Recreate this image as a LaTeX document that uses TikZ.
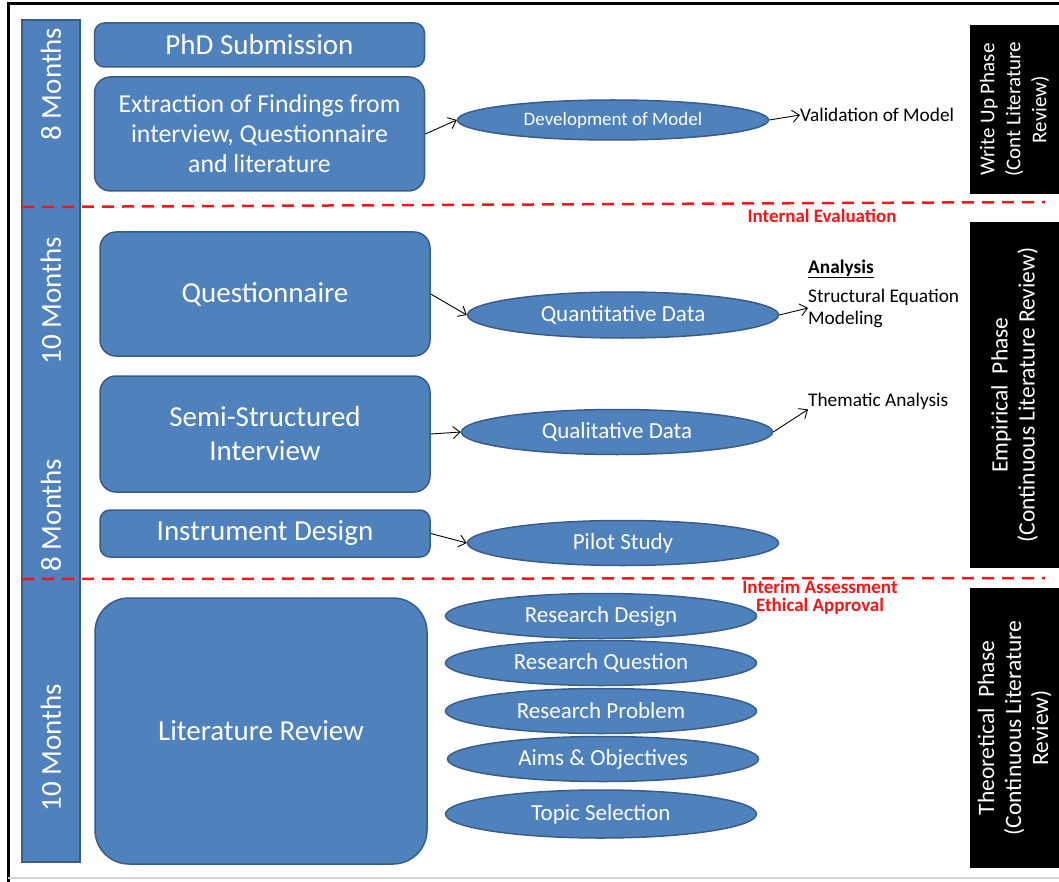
\documentclass[tikz,border=0pt]{standalone}
\usepackage{fontspec}
\setmainfont{Carlito}
\usetikzlibrary{shapes.geometric, arrows.meta}
\definecolor{boxblue}{RGB}{79,129,189}
\definecolor{edgeblue}{RGB}{56,93,138}
\definecolor{dashred}{RGB}{250,20,20}

\begin{document}
\begin{tikzpicture}[x=1pt, y=-1pt,
    stagebox/.style={draw=edgeblue, fill=boxblue, line width=1.5pt, rounded corners=16pt,
        text=white, align=center, inner sep=0pt, minimum width=330pt,
        font=\fontsize{29}{34}\selectfont},
    oval/.style={ellipse, draw=edgeblue, fill=boxblue, line width=1.5pt, text=white,
        minimum width=311pt, minimum height=45pt, inner sep=0pt,
        font=\fontsize{23}{26}\selectfont},
    phase/.style={fill=black, text=white, rotate=90, align=center, minimum height=89pt,
        inner sep=0pt, font=\fontsize{23.5}{27}\selectfont},
    months/.style={rotate=90, text=white, font=\fontsize{29}{34}\selectfont},
    note/.style={anchor=west, inner sep=0pt, align=left, font=\fontsize{19.3}{22}\selectfont},
    milestone/.style={text=dashred, inner sep=0pt, align=center,
        font=\bfseries\fontsize{19}{18}\selectfont},
    gate/.style={dashred, line width=2.5pt, dash pattern=on 12pt off 8pt},
    arr/.style={-{Straight Barb[length=7pt, width=12pt]}, line width=0.9pt}]

    % Draw the frame
    \useasboundingbox (0,0) rectangle (1059,882);
    \draw[line width=3pt] (8,882) -- (8,4) -- (1059,4);
    \draw[gray!35, line width=2pt] (8,878) -- (1059,878);

    % Time bar on the left
    \draw[draw=edgeblue, fill=boxblue, line width=1.5pt] (22,20) rectangle (80,862);
    \node[months] (m1) at (51,84) {8 Months};
    \node[months] (m2) at (51,301) {10 Months};
    \node[months] (m3) at (51,515) {8 Months};
    \node[months] (m4) at (51,748) {10 Months};

    % Phase boundaries
    \draw[gate] (22,207) -- (1045,202);
    \draw[gate] (22,579) -- (1045,578);
    \node[milestone] (evaluation) at (822,216) {Internal Evaluation};
    \node[milestone] (ethics) at (820,597) {Interim Assessment\\Ethical Approval};

    % Stages
    \node[stagebox, minimum height=44pt, rounded corners=10pt] (phd) at (259.5,45) {PhD Submission};
    \node[stagebox, minimum height=114pt, font=\fontsize{25.8}{30}\selectfont] (extract) at (259.5,134)
        {Extraction of Findings from\\interview, Questionnaire\\and literature};
    \node[stagebox, minimum height=124pt] (questionnaire) at (265,294) {Questionnaire};
    \node[stagebox, minimum height=116pt] (interview) at (265,434) {Semi-Structured\\Interview};
    \node[stagebox, minimum height=47pt, rounded corners=10pt] (instrument) at (265,533.5) {Instrument Design};
    \node[stagebox, minimum width=332pt, minimum height=266pt, rounded corners=34pt] (litreview) at (261,731) {Literature Review};

    % Outcomes
    \node[oval, minimum height=40pt, font=\fontsize{19}{22}\selectfont] (devmodel) at (613,120) {Development of Model};
    \node[oval, minimum height=46pt] (quant) at (623,315) {Quantitative Data};
    \node[oval] (qual) at (617,432) {Qualitative Data};
    \node[oval] (pilot) at (623,543) {Pilot Study};
    \node[oval] (design) at (601,616) {Research Design};
    \node[oval] (question) at (601,663) {Research Question};
    \node[oval] (problem) at (601,711) {Research Problem};
    \node[oval] (aims) at (603,759) {Aims \& Objectives};
    \node[oval, minimum height=48pt] (topic) at (601,814) {Topic Selection};

    % Analysis notes
    \node[note] (validation) at (800,115) {Validation of Model};
    \node[note] (analysis) at (808,269) {\textbf{\underline{Analysis}}};
    \node[note] (sem) at (808,308) {Structural Equation\\Modeling};
    \node[note] (thematic) at (808,401) {Thematic Analysis};

    % Connectors
    \draw[arr] (extract.east) -- (devmodel.west);
    \draw[arr] (devmodel.east) -- (validation.west);
    \draw[arr] (questionnaire.east) -- (quant.west);
    \draw[arr] (quant.east) -- (sem.west);
    \draw[arr] (interview.east) -- (qual.west);
    \draw[arr] (qual.east) -- (thematic.south west);
    \draw[arr] (instrument.east) -- (pilot.west);

    % Phases on the right
    \node[phase, minimum width=169pt, font=\fontsize{21}{26}\selectfont] (writeup) at (1014.5,109.5) {Write Up Phase\\(Cont Literature\\Review)};
    \node[phase, minimum width=346pt] (empirical) at (1014.5,395) {Empirical\ \ Phase\\(Continuous Literature Review)};
    \node[phase, minimum width=280pt] (theoretical) at (1014.5,728) {Theoretical\ \ Phase\\(Continuous Literature\\Review)};
\end{tikzpicture}
\end{document}
